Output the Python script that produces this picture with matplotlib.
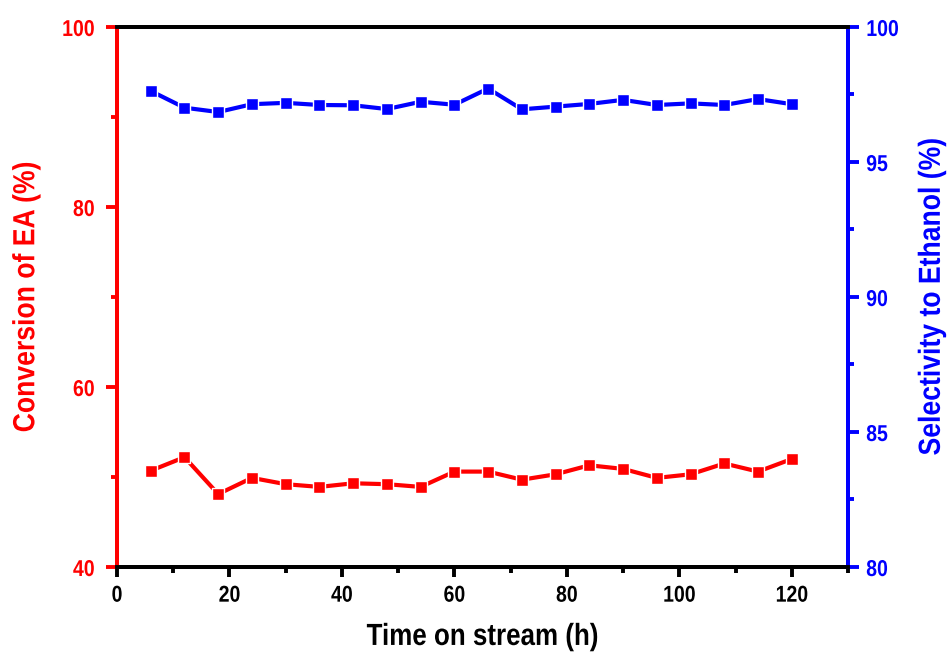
import matplotlib
matplotlib.use("Agg")
import matplotlib.pyplot as plt
from matplotlib.ticker import MultipleLocator
from matplotlib.patheffects import AbstractPathEffect
from matplotlib.transforms import Affine2D

plt.rcParams['font.family'] = ['Liberation Sans', 'DejaVu Sans']
plt.rcParams['font.weight'] = 'bold'

time_h = [6, 12, 18, 24, 30, 36, 42, 48, 54, 60, 66, 72, 78, 84, 90, 96, 102, 108, 114, 120]
conversion = [50.7, 52.2, 48.1, 49.9, 49.2, 48.9, 49.3, 49.2, 48.9, 50.6, 50.6,
              49.7, 50.3, 51.3, 50.9, 49.9, 50.3, 51.5, 50.6, 52.0]
selectivity = [97.63, 97.01, 96.85, 97.14, 97.19, 97.11, 97.10, 96.96, 97.23, 97.12, 97.72,
               96.95, 97.05, 97.15, 97.30, 97.11, 97.17, 97.11, 97.33, 97.14]

RED = '#ff0000'
BLUE = '#0000ff'


class Condense(AbstractPathEffect):
    """Horizontally condense text glyphs (Arial-Narrow-like look)."""
    def __init__(self, sx=0.85, anchor='center'):
        super().__init__()
        self.sx = sx
        self.anchor = anchor

    def draw_path(self, renderer, gc, tpath, affine, rgbFace=None):
        ext = tpath.get_extents()
        if self.anchor == 'left':
            cx = ext.x0
        elif self.anchor == 'right':
            cx = ext.x1
        else:
            cx = 0.5 * (ext.x0 + ext.x1)
        t = Affine2D().translate(-cx, 0).scale(self.sx, 1.0).translate(cx, 0)
        renderer.draw_path(gc, tpath, t + affine, rgbFace)


fig = plt.figure(figsize=(9.49, 6.53), dpi=100)
ax = fig.add_axes([0.1233, 0.1317, 0.7703, 0.8270])
ax2 = ax.twinx()

ax.plot(time_h, conversion, color=RED, lw=3, marker='s', ms=8.5,
        mec='white', mew=1.0, mfc=RED, clip_on=False, zorder=3)
ax2.plot(time_h, selectivity, color=BLUE, lw=3, marker='s', ms=8.5,
         mec='white', mew=1.0, mfc=BLUE, clip_on=False, zorder=3)

ax.set_xlim(0, 130)
ax.set_ylim(40, 100)
ax2.set_ylim(80, 100)

ax.xaxis.set_major_locator(MultipleLocator(20))
ax.xaxis.set_minor_locator(MultipleLocator(10))
ax.yaxis.set_major_locator(MultipleLocator(20))
ax.yaxis.set_minor_locator(MultipleLocator(10))
ax2.yaxis.set_major_locator(MultipleLocator(5))
ax2.yaxis.set_minor_locator(MultipleLocator(2.5))

for a in (ax, ax2):
    for s in a.spines.values():
        s.set_linewidth(2.8)
    a.spines['top'].set_color('black')
    a.spines['bottom'].set_color('black')
ax.spines['left'].set_color(RED)
ax2.spines['left'].set_color(RED)
ax.spines['right'].set_color(BLUE)
ax2.spines['right'].set_color(BLUE)

ax.tick_params(axis='x', which='major', direction='out', length=7, width=2.8,
               colors='black', labelsize=16.5, pad=5)
ax.tick_params(axis='x', which='minor', direction='out', length=4, width=2.8, colors='black')
ax.tick_params(axis='y', which='major', direction='out', length=8, width=2.8,
               colors=RED, labelsize=16.5, pad=8)
ax.tick_params(axis='y', which='minor', direction='out', length=4.5, width=2.8, colors=RED)
ax2.tick_params(axis='y', which='major', direction='out', length=8, width=2.8,
                colors=BLUE, labelsize=16.5, pad=5)
ax2.tick_params(axis='y', which='minor', direction='out', length=4.5, width=2.8, colors=BLUE)

for lbl in ax.get_xticklabels():
    lbl.set_fontweight('bold')
    lbl.set_path_effects([Condense(0.85, 'center')])
for lbl in ax.get_yticklabels():
    lbl.set_fontweight('bold')
    lbl.set_path_effects([Condense(0.85, 'right')])
for lbl in ax2.get_yticklabels():
    lbl.set_fontweight('bold')
    lbl.set_path_effects([Condense(0.85, 'left')])

ax.set_xlabel('Time on stream (h)', fontsize=22, fontweight='bold', color='black',
              labelpad=11, path_effects=[Condense(0.85)])
ax.set_ylabel('Conversion of EA (%)', fontsize=22, fontweight='bold', color=RED,
              labelpad=11, path_effects=[Condense(0.87)])
ax2.set_ylabel('Selectivity to Ethanol (%)', fontsize=22, fontweight='bold', color=BLUE,
               labelpad=9, path_effects=[Condense(0.87)])

fig.savefig('out.png', dpi=100)
